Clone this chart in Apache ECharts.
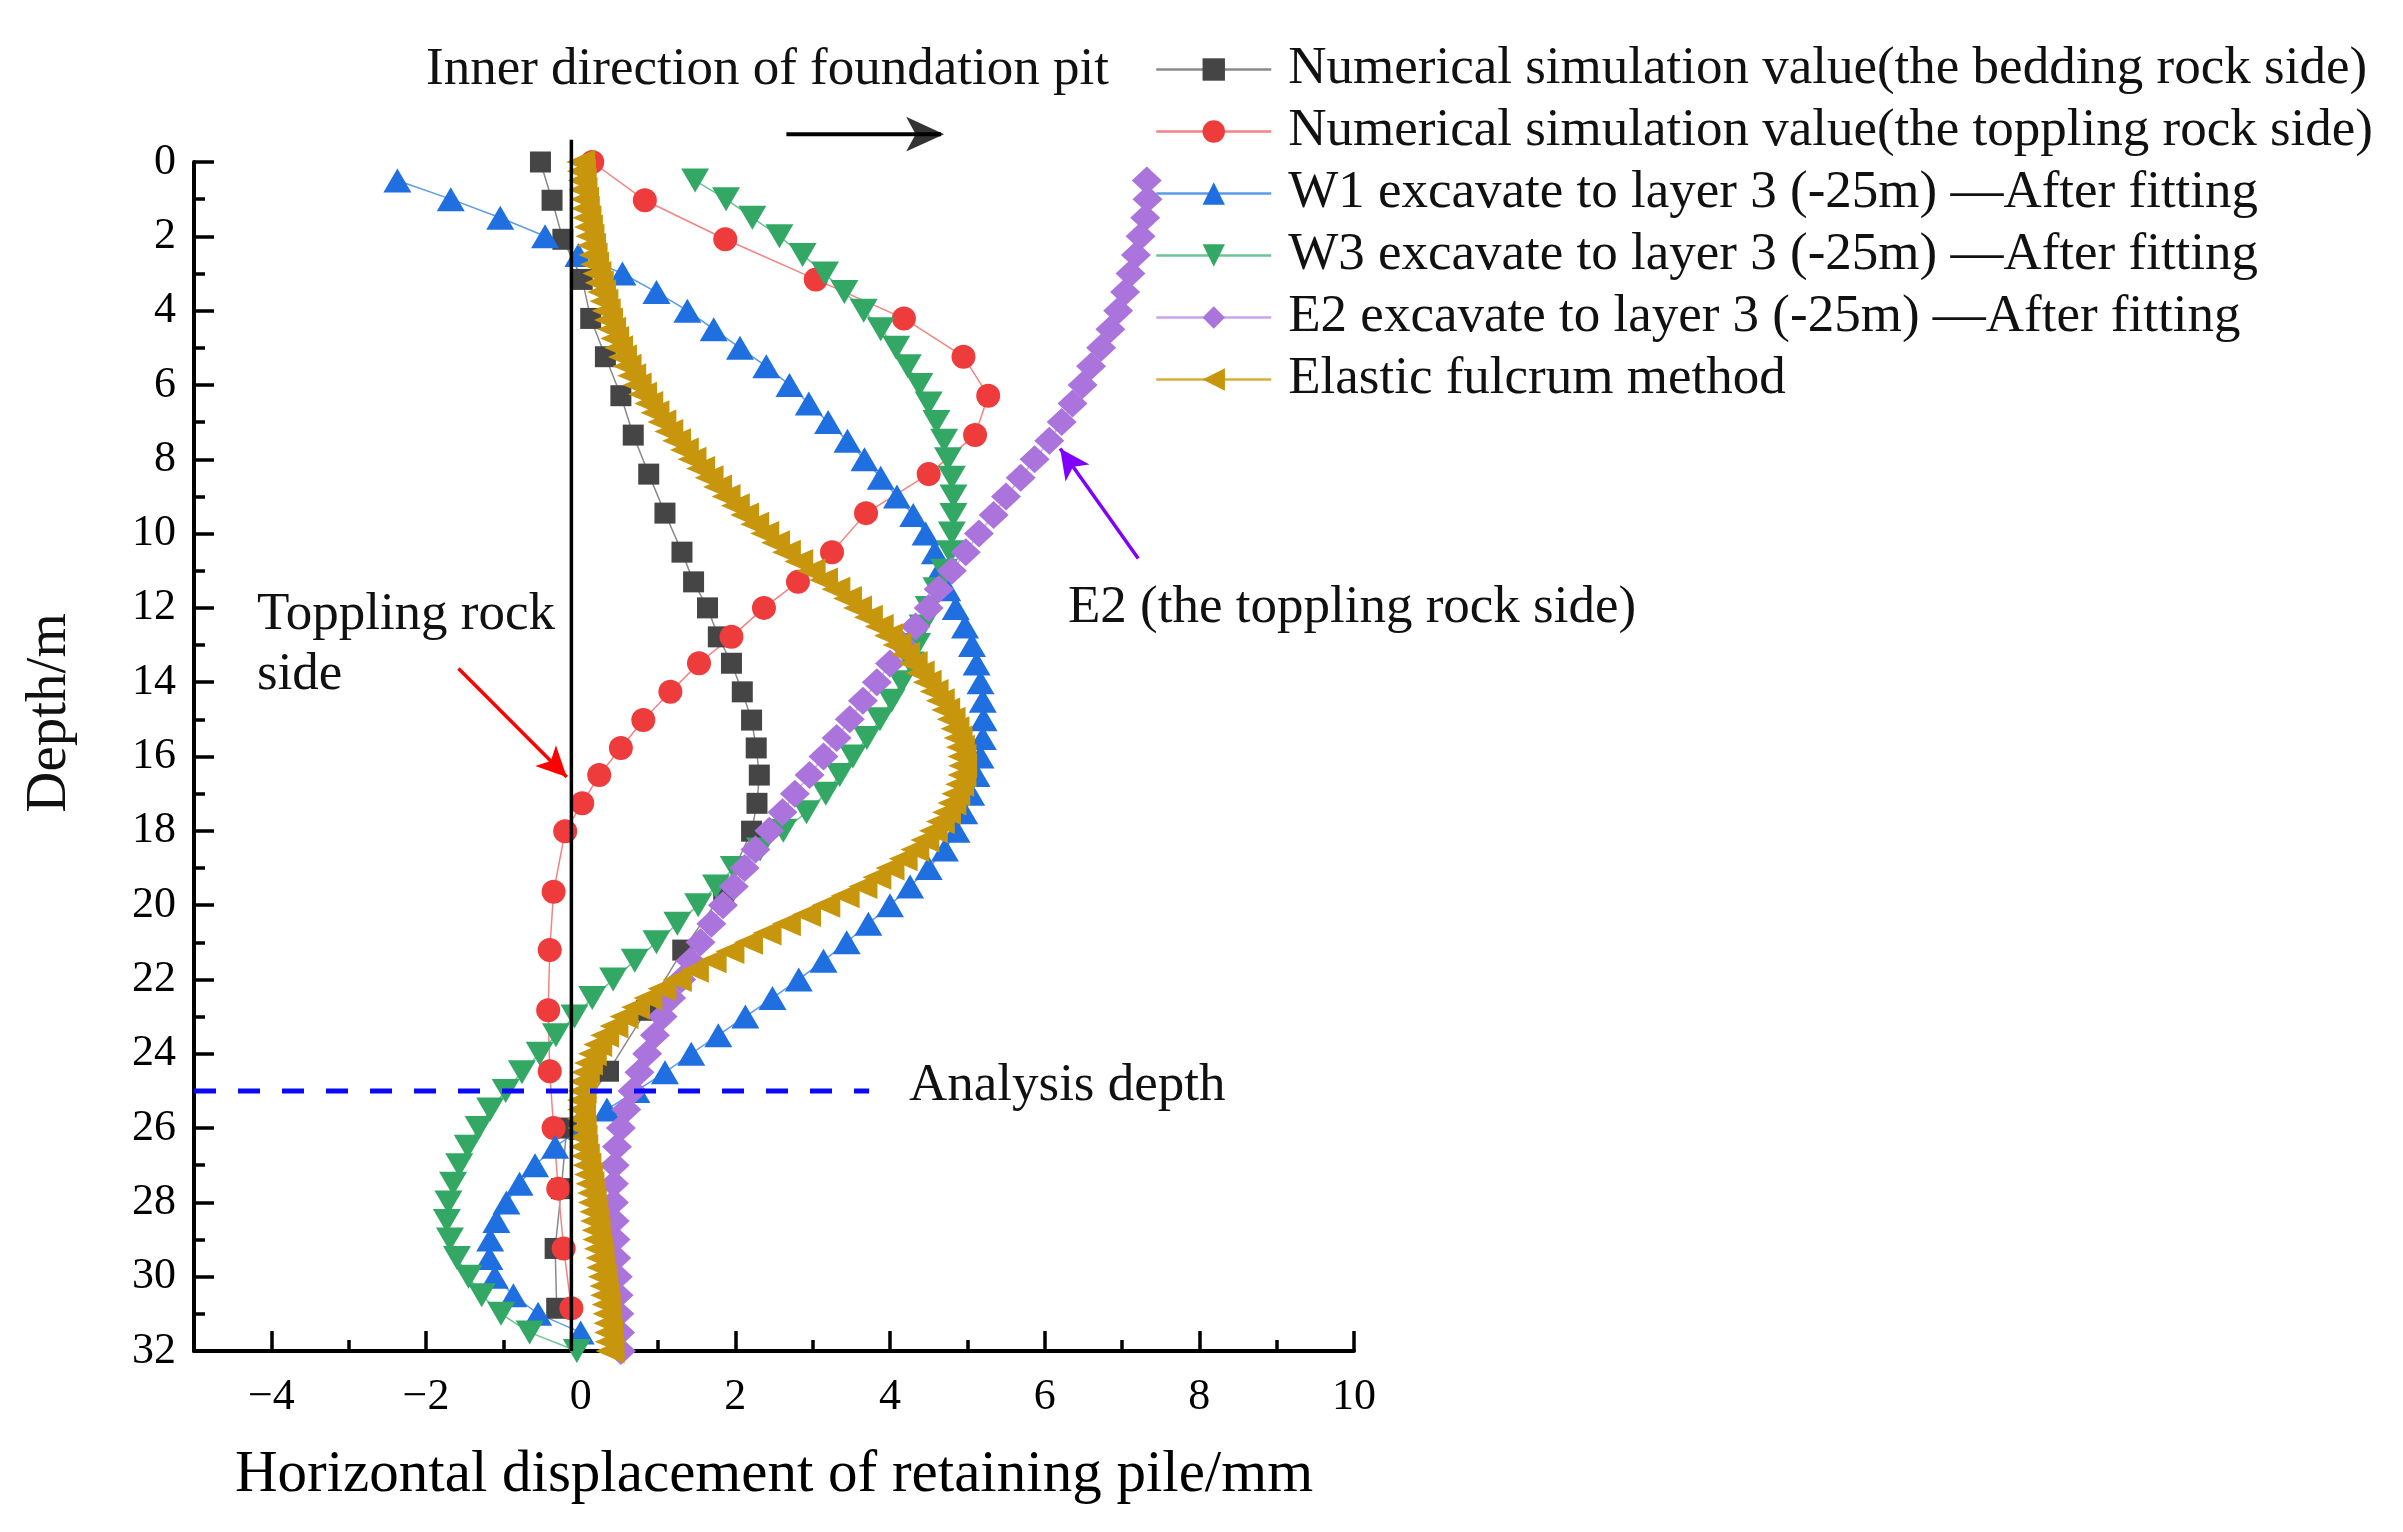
<!DOCTYPE html>
<html><head><meta charset="utf-8">
<script src="https://cdn.jsdelivr.net/npm/echarts@6/dist/echarts.min.js"></script>
<style>html,body{margin:0;padding:0;background:#fff}#c{width:2403px;height:1532px}</style>
</head><body><div id="c"></div><script>
const FONT = '"Liberation Serif","Times New Roman",serif';

// ---------- data ----------
const seriesNames = [
  'Numerical simulation value(the bedding rock side)',
  'Numerical simulation value(the toppling rock side)',
  'W1 excavate to layer 3 (-25m) \u2014After fitting',
  'W3 excavate to layer 3 (-25m) \u2014After fitting',
  'E2 excavate to layer 3 (-25m) \u2014After fitting',
  'Elastic fulcrum method'
];
// numerical simulation node depths (m)
const nodeDepths = [0,1.03,2.08,3.16,4.21,5.24,6.29,7.35,8.4,9.45,10.5,11.3,12.0,12.78,13.49,14.26,15.02,15.77,16.5,17.26,18.01,19.64,21.21,22.83,24.47,26.0,27.63,29.24,30.85];
const beddingX = [-0.52,-0.37,-0.23,0.02,0.13,0.32,0.52,0.68,0.88,1.09,1.31,1.46,1.64,1.78,1.95,2.09,2.21,2.27,2.31,2.28,2.21,1.85,1.32,0.85,0.36,-0.18,-0.25,-0.33,-0.31];
const topplingX = [0.15,0.83,1.87,3.04,4.18,4.95,5.27,5.10,4.50,3.69,3.25,2.81,2.37,1.95,1.53,1.16,0.81,0.52,0.24,0.02,-0.20,-0.35,-0.40,-0.42,-0.40,-0.35,-0.29,-0.22,-0.12];

// fitted curves depths (m)
const fitDepths = [0.5,1,1.5,2,2.5,3,3.5,4,4.5,5,5.5,6,6.5,7,7.5,8,8.5,9,9.5,10,10.5,11,11.5,12,12.5,13,13.5,14,14.5,15,15.5,16,16.5,17,17.5,18,18.5,19,19.5,20,20.5,21,21.5,22,22.5,23,23.5,24,24.5,25,25.5,26,26.5,27,27.5,28,28.5,29,29.5,30,30.5,31,31.5,32];
const w1X = [-2.37,-1.68,-1.04,-0.46,-0.03,0.54,0.98,1.38,1.72,2.06,2.40,2.70,2.95,3.20,3.45,3.67,3.88,4.09,4.30,4.46,4.58,4.64,4.74,4.85,4.97,5.06,5.12,5.17,5.20,5.21,5.20,5.17,5.12,5.05,4.96,4.86,4.71,4.50,4.26,4.00,3.72,3.44,3.14,2.82,2.48,2.13,1.78,1.43,1.09,0.72,0.34,0.02,-0.33,-0.59,-0.79,-0.96,-1.09,-1.17,-1.18,-1.11,-0.87,-0.55,0.00];
const w3X = [1.48,1.88,2.22,2.57,2.87,3.16,3.41,3.66,3.88,4.08,4.23,4.38,4.50,4.60,4.70,4.75,4.80,4.82,4.82,4.80,4.78,4.70,4.60,4.50,4.42,4.35,4.27,4.15,4.02,3.87,3.70,3.52,3.35,3.17,2.92,2.62,2.32,1.98,1.75,1.52,1.25,0.98,0.70,0.42,0.15,-0.08,-0.32,-0.53,-0.76,-0.97,-1.17,-1.32,-1.46,-1.57,-1.65,-1.71,-1.73,-1.69,-1.60,-1.45,-1.28,-1.03,-0.66,-0.05];
const e2X = [7.32,7.33,7.30,7.24,7.18,7.11,7.04,6.95,6.85,6.73,6.60,6.49,6.36,6.22,6.06,5.87,5.69,5.50,5.34,5.15,4.98,4.80,4.63,4.50,4.33,4.17,4.00,3.83,3.65,3.48,3.31,3.14,2.96,2.77,2.61,2.44,2.26,2.12,1.98,1.84,1.69,1.55,1.42,1.30,1.17,1.06,0.96,0.86,0.76,0.67,0.59,0.52,0.47,0.44,0.43,0.43,0.44,0.45,0.46,0.48,0.49,0.50,0.51,0.52];

// elastic fulcrum method
const elasticDepths = [0,0.25,0.5,0.75,1,1.25,1.5,1.75,2,2.25,2.5,2.75,3,3.25,3.5,3.75,4,4.25,4.5,4.75,5,5.25,5.5,5.75,6,6.25,6.5,6.75,7,7.25,7.5,7.75,8,8.25,8.5,8.75,9,9.25,9.5,9.75,10,10.25,10.5,10.75,11,11.25,11.5,11.75,12,12.25,12.5,12.75,13,13.25,13.5,13.75,14,14.25,14.5,14.75,15,15.25,15.5,15.75,16,16.25,16.5,16.75,17,17.25,17.5,17.75,18,18.25,18.5,18.75,19,19.25,19.5,19.75,20,20.25,20.5,20.75,21,21.25,21.5,21.75,22,22.25,22.5,22.75,23,23.25,23.5,23.75,24,24.25,24.5,24.75,25,25.25,25.5,25.75,26,26.25,26.5,26.75,27,27.25,27.5,27.75,28,28.25,28.5,28.75,29,29.25,29.5,29.75,30,30.25,30.5,30.75,31,31.25,31.5,31.75,32];
const elasticX = [0.00,0.01,0.02,0.03,0.05,0.06,0.08,0.10,0.12,0.14,0.16,0.18,0.21,0.24,0.27,0.30,0.33,0.36,0.40,0.44,0.49,0.54,0.60,0.66,0.73,0.80,0.88,0.96,1.05,1.14,1.24,1.34,1.44,1.55,1.66,1.77,1.88,2.00,2.12,2.25,2.38,2.52,2.66,2.82,2.98,3.14,3.30,3.45,3.58,3.72,3.86,3.98,4.09,4.20,4.30,4.39,4.48,4.57,4.65,4.72,4.79,4.84,4.88,4.91,4.93,4.94,4.93,4.90,4.85,4.80,4.73,4.65,4.56,4.45,4.32,4.17,4.00,3.83,3.65,3.42,3.17,2.92,2.66,2.41,2.17,1.93,1.70,1.47,1.25,1.05,0.87,0.71,0.56,0.43,0.31,0.22,0.15,0.10,0.06,0.03,0.02,0.01,0.01,0.01,0.02,0.03,0.04,0.06,0.08,0.10,0.12,0.14,0.15,0.17,0.18,0.20,0.21,0.23,0.25,0.26,0.28,0.30,0.31,0.33,0.34,0.35,0.36,0.37,0.38];

// axis ticks
const xMajorTicks = [-4,-2,0,2,4,6,8,10];
const xMinorTicks = [-3,-1,1,3,5,7,9];

// reference lines / annotations (data coords)
const pileLineX = -0.12;
const pileLineDepths = [-0.6, 32];
const analysisDepth = 25;
const analysisXRange = [-5, 3.73];
const innerArrowShaft = [[2.66,-0.75],[4.66,-0.75]];
const innerArrowHead = [4.70,-0.75];
const toppleArrow = [[-1.58,13.63],[-0.18,16.55]];
const e2Arrow = [[7.21,10.67],[6.20,7.71]];

// ---------- chart ----------
const zip = (xs, ys) => xs.map((x, i) => [x, ys[i]]);
const chart = echarts.init(document.getElementById('c'), null, {renderer: 'canvas', width: 2403, height: 1532});

function txt(text, x, y, size, extra) {
  return Object.assign({
    type: 'text', x: x, y: y, z: 100,
    style: {text: text, font: size + 'px ' + FONT, fill: '#111', align: 'left', verticalAlign: 'middle'}
  }, extra || {});
}

const gridRect = {left: 194, top: 162, width: 1160, height: 1189, containLabel: false};

const option = {
  animation: false,
  backgroundColor: '#ffffff',
  textStyle: {fontFamily: FONT},
  grid: [Object.assign({}, gridRect), Object.assign({}, gridRect)],
  legend: {
    orient: 'vertical', left: 1150, top: 38,
    itemWidth: 115, itemHeight: 28, itemGap: 9,
    data: seriesNames,
    lineStyle: {width: 2.5},
    textStyle: {fontFamily: FONT, fontSize: 53, color: '#111', padding: [0, 0, 0, 12]}
  },
  xAxis: [{
    type: 'value', gridIndex: 0, min: -5, max: 10, position: 'bottom',
    axisLine: {onZero: false, lineStyle: {color: '#000', width: 4}},
    axisTick: {inside: true, length: 20, customValues: xMajorTicks, lineStyle: {color: '#000', width: 3.5}},
    axisLabel: {customValues: xMajorTicks, margin: 24, fontSize: 44, color: '#000', fontFamily: FONT,
      formatter: v => String(v).replace('-', '\u2212')},
    splitLine: {show: false},
    name: 'Horizontal displacement of retaining pile/mm', nameLocation: 'middle', nameGap: 95,
    nameTextStyle: {fontSize: 59, color: '#000', fontFamily: FONT}
  }, {
    type: 'value', gridIndex: 1, min: -5, max: 10, position: 'bottom',
    axisLine: {show: false, onZero: false},
    axisTick: {inside: true, length: 11, customValues: xMinorTicks, lineStyle: {color: '#000', width: 3.5}},
    axisLabel: {show: false}, splitLine: {show: false}
  }],
  yAxis: [{
    type: 'value', gridIndex: 0, min: 0, max: 32, interval: 2, inverse: true,
    axisLine: {onZero: false, lineStyle: {color: '#000', width: 4}},
    axisTick: {inside: true, length: 20, lineStyle: {color: '#000', width: 3.5}},
    minorTick: {show: true, splitNumber: 2, length: 11, lineStyle: {color: '#000', width: 3.5}},
    axisLabel: {margin: 18, fontSize: 44, color: '#000', fontFamily: FONT},
    splitLine: {show: false}, minorSplitLine: {show: false}
  }, {
    type: 'value', gridIndex: 1, min: 0, max: 32, inverse: true, show: false,
    axisLine: {onZero: false}
  }],
  graphic: [
    txt('Inner direction of foundation pit', 426, 70, 53),
    txt('Toppling rock', 257, 615, 53),
    txt('side', 257, 675, 53),
    txt('E2 (the toppling rock side)', 1068, 608, 53),
    txt('Analysis depth', 909, 1086, 53),
    {type: 'text', x: 50, y: 713, rotation: Math.PI / 2, z: 100,
     style: {text: 'Depth/m', font: '57px ' + FONT, fill: '#111', align: 'center', verticalAlign: 'middle'}}
  ],
  series: [
    {name: seriesNames[0], type: 'line', data: zip(beddingX, nodeDepths),
     symbol: 'rect', symbolSize: 21, itemStyle: {color: '#454545'},
     lineStyle: {color: '#8a8a8a', width: 1.5}},
    {name: seriesNames[1], type: 'line', data: zip(topplingX, nodeDepths),
     symbol: 'circle', symbolSize: 24, itemStyle: {color: '#EE3B3B'},
     lineStyle: {color: '#F58282', width: 1.5}},
    {name: seriesNames[2], type: 'line', data: zip(w1X, fitDepths.slice(0, w1X.length)),
     symbol: 'triangle', symbolSize: [28, 24], itemStyle: {color: '#1F6FE0'},
     lineStyle: {color: '#5B9BEA', width: 1.5}},
    {name: seriesNames[3], type: 'line', data: zip(w3X, fitDepths),
     symbol: 'triangle', symbolRotate: 180, symbolSize: [28, 24], itemStyle: {color: '#33A865'},
     lineStyle: {color: '#6CC495', width: 1.5}},
    {name: seriesNames[4], type: 'line', data: zip(e2X, fitDepths),
     symbol: 'diamond', symbolSize: [30, 28], itemStyle: {color: '#AA74DC'},
     lineStyle: {color: '#C9A4EC', width: 1.5}},
    {name: seriesNames[5], type: 'line', data: zip(elasticX, elasticDepths),
     symbol: 'triangle', symbolRotate: 90, symbolSize: [25, 29], itemStyle: {color: '#C8960C'},
     lineStyle: {color: '#D6AE40', width: 1.5}},
    {name: 'pile', type: 'line', clip: false, silent: true, symbol: 'none',
     data: pileLineDepths.map(d => [pileLineX, d]),
     lineStyle: {color: '#000', width: 3.5}, z: 5},
    {name: 'analysis', type: 'line', silent: true, symbol: 'none', clip: false,
     data: analysisXRange.map(x => [x, analysisDepth]),
     lineStyle: {color: '#0A0AF5', width: 5, type: [22, 22]}, z: 6},
    {name: 'arrowInnerShaft', type: 'line', clip: false, silent: true, symbol: 'none',
     data: innerArrowShaft, lineStyle: {color: '#000', width: 4}},
    {name: 'arrowInnerHead', type: 'scatter', clip: false, silent: true,
     data: [innerArrowHead], symbol: 'arrow', symbolRotate: -90, symbolSize: [26, 38],
     itemStyle: {color: '#000'}},
    {name: 'arrowTopple', type: 'line', data: [], clip: false, silent: true,
     markLine: {silent: true, symbol: ['none', 'arrow'], symbolSize: [22, 30], label: {show: false},
       lineStyle: {color: '#FF0000', width: 3.5, type: 'solid'},
       data: [[{coord: toppleArrow[0]}, {coord: toppleArrow[1]}]]}},
    {name: 'arrowE2', type: 'line', data: [], clip: false, silent: true,
     markLine: {silent: true, symbol: ['none', 'arrow'], symbolSize: [22, 30], label: {show: false},
       lineStyle: {color: '#8000FF', width: 3.5, type: 'solid'},
       data: [[{coord: e2Arrow[0]}, {coord: e2Arrow[1]}]]}}
  ]
};
chart.setOption(option);
</script></body></html>
